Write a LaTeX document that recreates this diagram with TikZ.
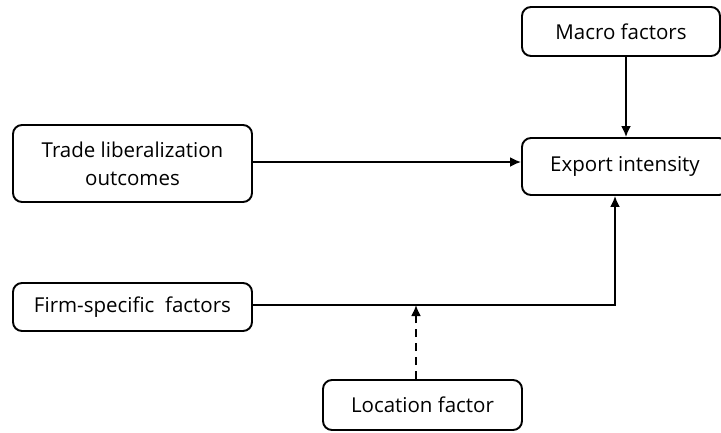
\documentclass[tikz,border=0pt]{standalone}
\usepackage{fontspec}
\setmainfont{Open Sans}
\usetikzlibrary{arrows.meta}
\tikzstyle{factor}=[rectangle,
	line width=1.9pt,
	rounded corners=9pt,
	draw=black,
	align=center,
	inner sep=0pt,
	font=\fontsize{20.5}{28}\selectfont]
\tikzstyle{link}=[line width=1.9pt,
	-{Latex[length=11pt,width=10pt]}]
\begin{document}
\begin{tikzpicture}[x=1pt,y=-1pt]
	\useasboundingbox (0,0) rectangle (721,432);
	\node (macro) [factor, minimum width=198pt, minimum height=49pt] at (621,31.5) {Macro factors};
	\node (export) [factor, minimum width=206pt, minimum height=57pt] at (625,166.5) {Export intensity};
	\node (trade) [factor, minimum width=239pt, minimum height=77pt] at (132.5,163.5) {Trade liberalization\\outcomes};
	\node (firm) [factor, minimum width=239pt, minimum height=48pt] at (132.5,307) {Firm-specific~ factors};
	\node (location) [factor, minimum width=199pt, minimum height=50pt] at (422.5,405) {Location factor};
	\coordinate (joint) at (416,305);

	\draw[link] (macro.south -| 626,0) -- (export.north -| 626,0);
	\draw[link] (trade.east |- 0,162) -- (export.west |- 0,162);
	\draw[link] (firm.east |- 0,305) -| (export.south -| 615,0);
	\draw[link, dash pattern=on 8pt off 6pt] (location.north -| joint) -- (joint);
\end{tikzpicture}
\end{document}
